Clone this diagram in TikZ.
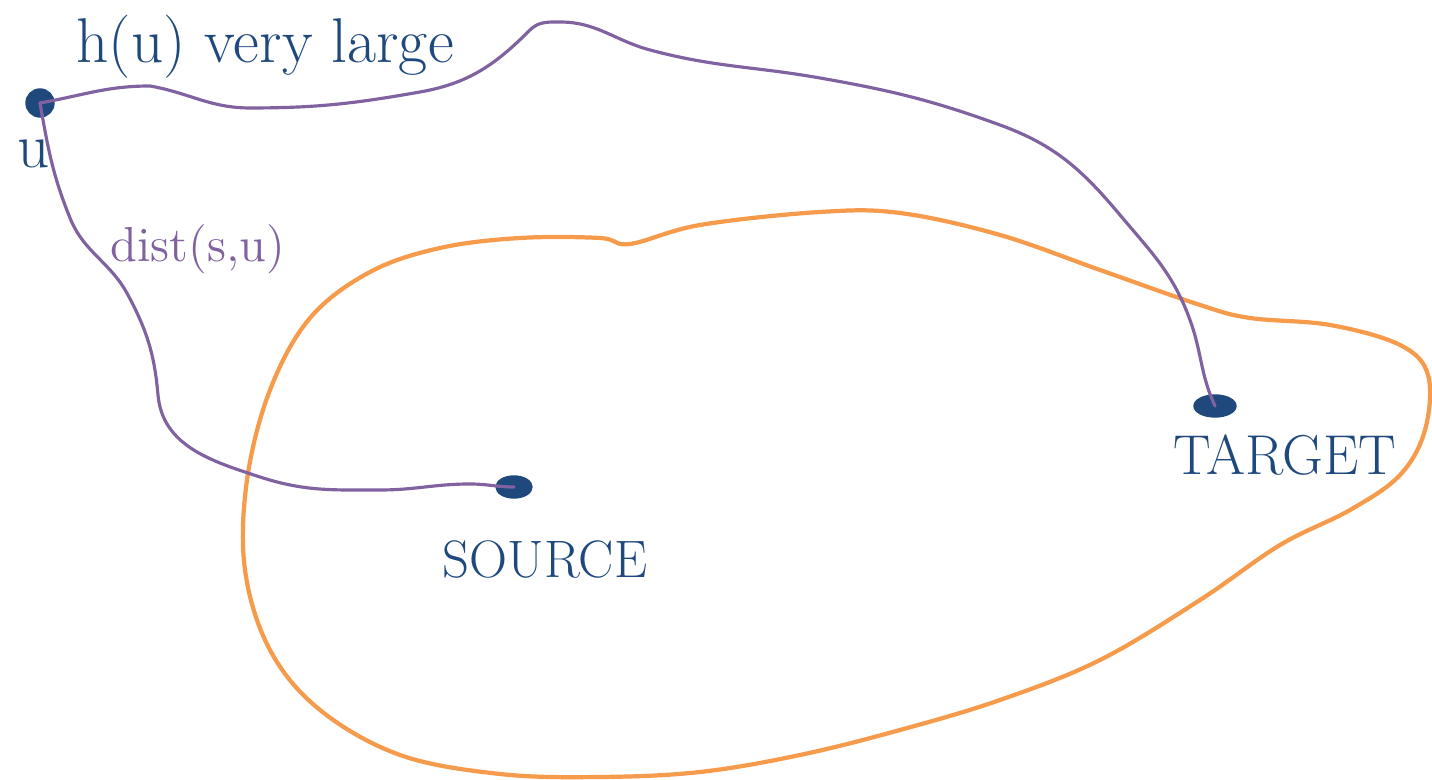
\documentclass[tikz,border=0pt]{standalone}
\usepackage{amsmath, amssymb}
\usetikzlibrary{shapes.geometric}

\definecolor{inkblue}{RGB}{31,73,125}
\definecolor{pathpurple}{RGB}{128,98,160}
\definecolor{regionorange}{RGB}{246,154,76}

\tikzset{
	dot/.style={ellipse, fill=inkblue, draw=inkblue, inner sep=0pt},
	word/.style={text=inkblue, inner sep=1pt},
	pathline/.style={pathpurple, line width=0.9pt, line cap=round},
	region/.style={regionorange, line width=1.2pt}
}

\begin{document}
\begin{tikzpicture}
			\useasboundingbox (0, 0) rectangle (14.32, 7.8);

			% explored region around the source
			\draw[region] plot[smooth cycle, tension=0.6] coordinates {
				(6.30, 5.36) (7.00, 5.55) (8.20, 5.68) (9.00, 5.67) (10.00, 5.45)
				(11.00, 5.10) (12.00, 4.75) (12.50, 4.62) (13.30, 4.55) (14.00, 4.35)
				(14.28, 4.05) (14.25, 3.50) (14.00, 3.05) (13.50, 2.70) (12.80, 2.35)
				(12.00, 1.80) (11.00, 1.20) (10.00, 0.80) (9.00, 0.50) (8.00, 0.25)
				(7.00, 0.08) (6.00, 0.03) (5.00, 0.06) (4.00, 0.25) (3.20, 0.70)
				(2.70, 1.30) (2.45, 2.10) (2.47, 3.00) (2.70, 3.90) (3.10, 4.62)
				(3.70, 5.08) (4.40, 5.32) (5.20, 5.42) (6.00, 5.42)};

			\node[dot, minimum width=0.28cm, minimum height=0.28cm] (u) at (0.40, 6.77) {};
			\node[dot, minimum width=0.36cm, minimum height=0.22cm] (source) at (5.14, 2.93) {};
			\node[dot, minimum width=0.42cm, minimum height=0.22cm] (target) at (12.15, 3.74) {};

			\node[word, font=\fontsize{18}{20}\selectfont] (ulabel) at (0.34, 6.26) {u};
			\node[word, font=\fontsize{18}{20}\selectfont] (hlabel) at (2.65, 7.33) {h(u) very large};
			\node[word, font=\fontsize{15}{18}\selectfont] (slabel) at (5.45, 2.20) {SOURCE};
			\node[word, font=\fontsize{16}{18}\selectfont] (tlabel) at (12.85, 3.25) {TARGET};
			\node[text=pathpurple, font=\fontsize{14}{16}\selectfont] (dlabel) at (1.98, 5.31) {dist(s,u)};

			% u to target, over the top
			\draw[pathline] (u.center) to[out=10,in=180] (1.50, 6.94)
				to[out=-10,in=180] (2.50, 6.72)
				to[out=0,in=190] (4.20, 6.88)
				to[out=10,in=225] (5.30, 7.50)
				to[out=45,in=180] (5.60, 7.58)
				to[out=0,in=165] (6.50, 7.30)
				to[out=-15,in=170] (8.20, 7.02)
				to[out=-10,in=160] (10.00, 6.55)
				to[out=-20,in=130] (11.20, 5.65)
				to[out=-50,in=110] (11.90, 4.60)
				to[out=-70,in=115] (target.center);

			% source to u
			\draw[pathline] (u.center) to[out=-80,in=112] (0.70, 5.62)
				to[out=-68,in=118] (1.28, 4.85)
				to[out=-62,in=95] (1.58, 3.85)
				to[out=-85,in=162] (2.60, 3.03)
				to[out=-18,in=180] (3.80, 2.90)
				to[out=0,in=180] (4.70, 2.96)
				to[out=0,in=180] (source.center);
		\end{tikzpicture}
\end{document}
